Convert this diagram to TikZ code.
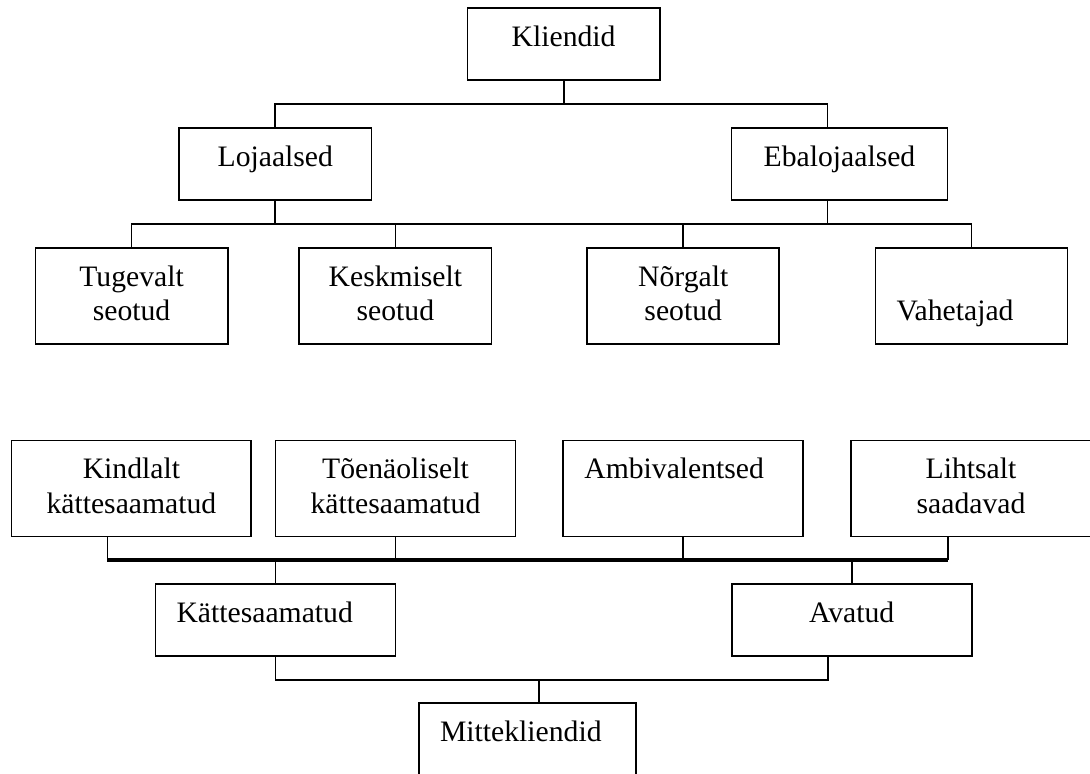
\documentclass[tikz,border=0pt]{standalone}
\usepackage{fontspec}
\setmainfont{Liberation Serif}
\usepackage{tikz}
\usetikzlibrary{calc}

\begin{document}
\begin{tikzpicture}[x=0.418pt, y=-0.418pt,
  box/.style={draw, line width=0.75pt, text width=#1, align=center,
    inner xsep=0pt, inner ysep=0pt, text height=15.9pt,
    font=\fontsize{12.4}{14.6}\selectfont},
  lbox/.style={box=#1, align=left, inner xsep=8.8pt},
  short/.style={text depth=14.2pt},
  tall/.style={text depth=24.2pt},
  link/.style={line width=0.75pt},
  bus/.style={line width=1.3pt}]
  \useasboundingbox (0,0) rectangle (1090,774);
  \clip (0,0) rectangle (1090,774);

  % --- Kliendid ---
  \node[box=80.3pt, short] (kliendid) at (563.6,44) {Kliendid};
  \node[box=80.5pt, short] (lojaalsed) at (275.3,164) {Lojaalsed};
  \node[box=90.3pt, short] (ebalojaalsed) at (839.5,164) {Ebalojaalsed};
  \node[box=80.3pt, tall] (tugevalt) at (131.6,296) {Tugevalt\\seotud};
  \node[box=80.3pt, tall] (keskmiselt) at (395.4,296) {Keskmiselt\\seotud};
  \node[box=80.3pt, tall] (norgalt) at (683.2,296) {Nõrgalt\\seotud};
  \node[lbox=62.7pt, tall] (vahetajad) at (971.5,296) {\mbox{}\\Vahetajad};

  % connectors
  \coordinate (bus1) at (0,104);
  \coordinate (bus2) at (0,224);
  \coordinate (e1) at ($(ebalojaalsed.north)+(-12,0)$);
  \coordinate (e2) at ($(ebalojaalsed.south)+(-12,0)$);
  \draw[link] (kliendid.south) -- (kliendid.south |- bus1);
  \draw[link] (lojaalsed.north) |- (e1 |- bus1) -- (e1);
  \draw[link] (tugevalt.north) |- (vahetajad.north |- bus2) -- (vahetajad.north);
  \draw[link] (keskmiselt.north) -- (keskmiselt.north |- bus2);
  \draw[link] (norgalt.north) -- (norgalt.north |- bus2);
  \draw[link] (lojaalsed.south) -- (lojaalsed.south |- bus2);
  \draw[link] (e2) -- (e2 |- bus2);

  % --- Mittekliendid ---
  \node[box=100.3pt, tall] (kindlalt) at (131.4,488.5) {Kindlalt\\kättesaamatud};
  \node[box=100.3pt, tall] (toenaoliselt) at (395.5,488.5) {Tõenäoliselt\\kättesaamatud};
  \node[lbox=82.7pt, tall] (ambivalentsed) at (683.3,488.5) {Ambivalentsed};
  \node[box=100.3pt, tall] (lihtsalt) at (971,488.5) {Lihtsalt\\saadavad};
  \node[lbox=82.7pt, short] (kattesaamatud) at (275.5,620) {Kättesaamatud};
  \node[box=100.3pt, short] (avatud) at (851.7,620) {Avatud};
  \node[lbox=73.1pt, tall] (mittekliendid) at (527.5,751) {Mittekliendid};

  % connectors
  \coordinate (bus3) at (0,560);
  \coordinate (bus4) at (0,680);
  \coordinate (k1) at ($(kindlalt.south)+(-24,0)$);
  \coordinate (l1) at ($(lihtsalt.south)+(-23,0)$);
  \coordinate (a1) at ($(avatud.south)+(-24,0)$);
  \coordinate (m1) at ($(mittekliendid.north)+(11.5,0)$);
  \draw[link] (k1) -- (k1 |- bus3);
  \draw[link] (toenaoliselt.south) -- (toenaoliselt.south |- bus3);
  \draw[link] (ambivalentsed.south) -- (ambivalentsed.south |- bus3);
  \draw[link] (l1) -- (l1 |- bus3);
  \draw[bus] (k1 |- bus3) -- (l1 |- bus3);
  \draw[link] (kattesaamatud.north) -- (kattesaamatud.north |- bus3);
  \draw[link] (avatud.north) -- (avatud.north |- bus3);
  \draw[link] (kattesaamatud.south) |- (a1 |- bus4) -- (a1);
  \draw[link] (m1) -- (m1 |- bus4);
\end{tikzpicture}
\end{document}
